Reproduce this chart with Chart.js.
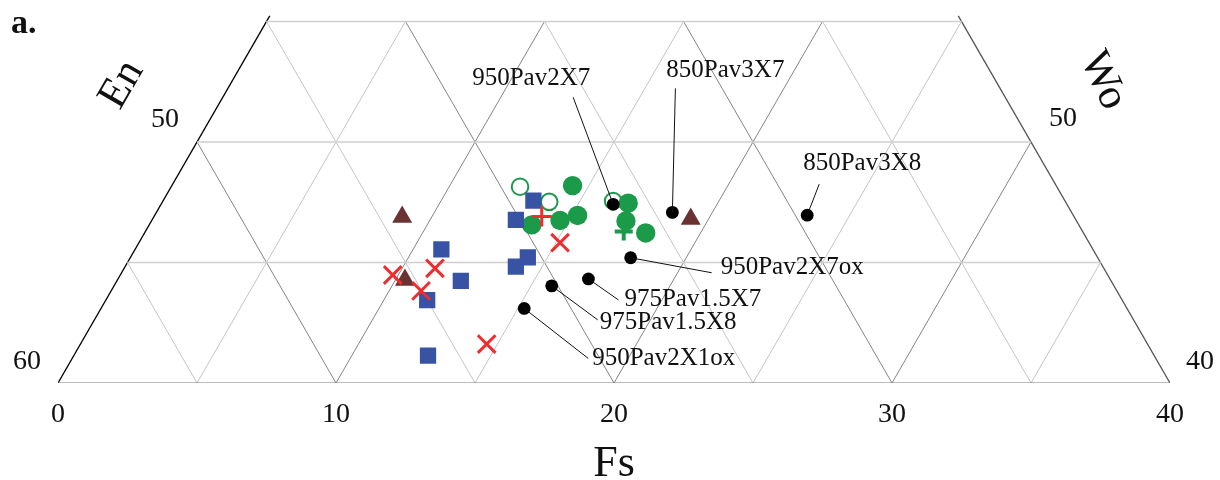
<!DOCTYPE html>
<html>
<head>
<meta charset="utf-8">
<script src="https://cdn.jsdelivr.net/npm/chart.js@4/dist/chart.umd.min.js"></script>
<style>
  html, body { margin: 0; padding: 0; background: #fff; }
  #wrap { width: 1220px; height: 480px; position: relative; }
</style>
</head>
<body>
<div id="wrap"><canvas id="ternary"></canvas></div>
<script>
// x = position along the Fs base (0-40), y = height above the base in the same units
const blueSquares = [[17.10, 6.55], [16.47, 5.86], [13.79, 4.80], [16.90, 4.51], [16.47, 4.18], [14.49, 3.67], [13.28, 2.98], [13.31, 0.98]];
const redCrosses = [[12.04, 3.88], [13.56, 4.12], [13.06, 3.31], [15.42, 1.40], [18.06, 5.04]];
const redPlus = [[17.40, 5.98]];
const brownTriangles = [[12.38, 5.96], [12.48, 3.70], [22.76, 5.89]];
const greenFilled = [[18.51, 7.09], [17.04, 5.68], [18.06, 5.84], [18.69, 6.02], [20.51, 6.46], [20.43, 5.82], [21.14, 5.39]];
const greenOpen = [[16.62, 7.05], [17.67, 6.51], [19.97, 6.54]];
const greenPlus = [[20.35, 5.44]];

// labelled run products
const sampleNames = ['950Pav2X7', '850Pav3X7', '850Pav3X8', '950Pav2X7ox', '975Pav1.5X7', '975Pav1.5X8', '950Pav2X1ox'];
const sampleFs = [19.97, 22.10, 26.95, 20.60, 19.08, 17.76, 16.77];
const sampleH = [6.42, 6.13, 6.03, 4.50, 3.74, 3.49, 2.68];

const fsTicks = [0, 10, 20, 30, 40];

// callout placement (pixel offsets from the dot): leader end, text anchor, alignment
const callouts = [
  { lx: -40, ly: -107, tx: -82, ty: -126, align: 'center' },
  { lx: 3, ly: -124, tx: 53, ty: -142, align: 'center' },
  { lx: 12, ly: -31, tx: -4, ty: -52, align: 'left' },
  { lx: 81, ly: 15, tx: 90, ty: 10, align: 'left' },
  { lx: 30, ly: 21, tx: 36, ty: 21, align: 'left' },
  { lx: 46, ly: 34, tx: 48, ty: 37, align: 'left' },
  { lx: 64, ly: 50, tx: 68, ty: 50, align: 'left' }
];

const SIDE = 5, ROWS = 3, FS_MAX = 40;
const R3 = Math.sqrt(3);
const ROW_H = SIDE * R3 / 2;
const TOP = ROWS * ROW_H;
const EDGE_TOP = 13.2;

const pts = arr => arr.map(([x, y]) => ({ x, y }));

// triangular grid
const gridSets = [];
function seg(x1, y1, x2, y2, color, width) {
  gridSets.push({
    type: 'scatter', showLine: true, pointRadius: 0, borderColor: color, borderWidth: width,
    data: [{ x: x1, y: y1 }, { x: x2, y: y2 }], order: 10
  });
}
for (let r = 1; r <= ROWS; r++) {
  const h = r * ROW_H;
  seg(h / R3, h, FS_MAX - h / R3, h, '#cfcfcf', 1.4);
}
seg(0, 0, FS_MAX, 0, '#7a7a7a', 1.2);
for (let k = 1; k < FS_MAX / SIDE; k++) {
  const x0 = k * SIDE;
  const col = k % 2 === 0 ? '#858585' : '#c4c4c4';
  const hr = Math.min(TOP, (FS_MAX - x0) * R3 / 2);
  seg(x0, 0, x0 + hr / R3, hr, col, 1);
  const hl = Math.min(TOP, x0 * R3 / 2);
  seg(x0, 0, x0 - hl / R3, hl, col, 1);
}
seg(0, 0, EDGE_TOP / R3, EDGE_TOP, '#000', 1.3);
seg(FS_MAX, 0, FS_MAX - EDGE_TOP / R3, EDGE_TOP, '#555', 1.3);

const SERIF = '"Liberation Serif", "Times New Roman", serif';

const overlay = {
  id: 'overlay',
  afterDatasetsDraw(chart) {
    const { ctx, scales: { x, y } } = chart;
    ctx.save();
    ctx.fillStyle = '#111';
    ctx.strokeStyle = '#111';
    ctx.lineWidth = 1;
    ctx.font = '25px ' + SERIF;
    ctx.textBaseline = 'middle';
    sampleNames.forEach((name, i) => {
      const px = x.getPixelForValue(sampleFs[i]);
      const py = y.getPixelForValue(sampleH[i]);
      const c = callouts[i];
      ctx.beginPath();
      ctx.moveTo(px, py);
      ctx.lineTo(px + c.lx, py + c.ly);
      ctx.stroke();
      ctx.textAlign = c.align;
      ctx.fillText(name, px + c.tx, py + c.ty);
    });

    // side scale labels
    ctx.font = '28px ' + SERIF;
    ctx.textAlign = 'center';
    const side = (fs, h, dx, dy, t) => ctx.fillText(t, x.getPixelForValue(fs) + dx, y.getPixelForValue(h) + dy);
    side(SIDE, 2 * ROW_H, -32, -22, '50');
    side(0, 0, -31, -21, '60');
    side(FS_MAX - SIDE, 2 * ROW_H, 32, -23, '50');
    side(FS_MAX, 0, 30, -21, '40');

    // end-member names
    ctx.font = '43px ' + SERIF;
    ctx.save();
    ctx.translate(x.getPixelForValue(0) + 64, chart.chartArea.top + 69);
    ctx.rotate(-Math.PI / 3);
    ctx.fillText('En', 0, 0);
    ctx.restore();
    ctx.save();
    ctx.translate(x.getPixelForValue(FS_MAX) - 67, chart.chartArea.top + 65);
    ctx.rotate(Math.PI * 65 / 180);
    ctx.fillText('Wo', 0, 0);
    ctx.restore();

    // panel letter
    ctx.font = 'bold 34px ' + SERIF;
    ctx.textAlign = 'left';
    ctx.textBaseline = 'alphabetic';
    ctx.fillText('a.', 11, 33);
    ctx.restore();
  }
};

new Chart(document.getElementById('ternary'), {
  type: 'scatter',
  data: {
    datasets: [
      { data: sampleFs.map((v, i) => ({ x: v, y: sampleH[i] })), pointStyle: 'circle', pointRadius: 6.4, backgroundColor: '#000', borderColor: '#000', borderWidth: 0, order: 0 },
      { data: pts(redCrosses), pointStyle: 'crossRot', pointRadius: 12.5, borderColor: '#ee2e2e', borderWidth: 3, order: 1 },
      { data: pts(redPlus), pointStyle: 'cross', pointRadius: 10, borderColor: '#ee2e2e', borderWidth: 3, order: 1 },
      { data: pts(blueSquares), pointStyle: 'rect', pointRadius: 11.5, backgroundColor: '#3953a4', borderColor: '#3953a4', borderWidth: 0, order: 2 },
      { data: pts(brownTriangles), pointStyle: 'triangle', pointRadius: 11.5, backgroundColor: '#6b3232', borderColor: '#6b3232', borderWidth: 0, order: 2 },
      { data: pts(greenPlus), pointStyle: 'cross', pointRadius: 9, borderColor: '#1b9a4a', borderWidth: 4, order: 3 },
      { data: pts(greenFilled), pointStyle: 'circle', pointRadius: 9.7, backgroundColor: '#1b9a4a', borderColor: '#1b9a4a', borderWidth: 0, order: 4 },
      { data: pts(greenOpen), pointStyle: 'circle', pointRadius: 8.3, backgroundColor: 'rgba(0,0,0,0)', borderColor: '#1b9a4a', borderWidth: 2, order: 5 },
      ...gridSets
    ]
  },
  options: {
    responsive: true,
    maintainAspectRatio: false,
    animation: false,
    layout: { padding: { left: 58, right: 50, top: 15.6, bottom: 0 } },
    plugins: { legend: { display: false }, tooltip: { enabled: false } },
    scales: {
      x: {
        type: 'linear', min: 0, max: FS_MAX,
        afterBuildTicks: s => { s.ticks = fsTicks.map(v => ({ value: v })); },
        afterFit: s => { s.height = 97; },
        grid: { display: false, drawTicks: false },
        border: { display: false },
        ticks: { padding: 15, color: '#111', font: { family: SERIF, size: 28 } },
        title: { display: true, text: 'Fs', color: '#111', font: { family: SERIF, size: 44, lineHeight: 1 }, padding: { top: 0, bottom: -6 } }
      },
      y: { type: 'linear', min: 0, max: EDGE_TOP, display: false }
    }
  },
  plugins: [overlay]
});
</script>
</body>
</html>
